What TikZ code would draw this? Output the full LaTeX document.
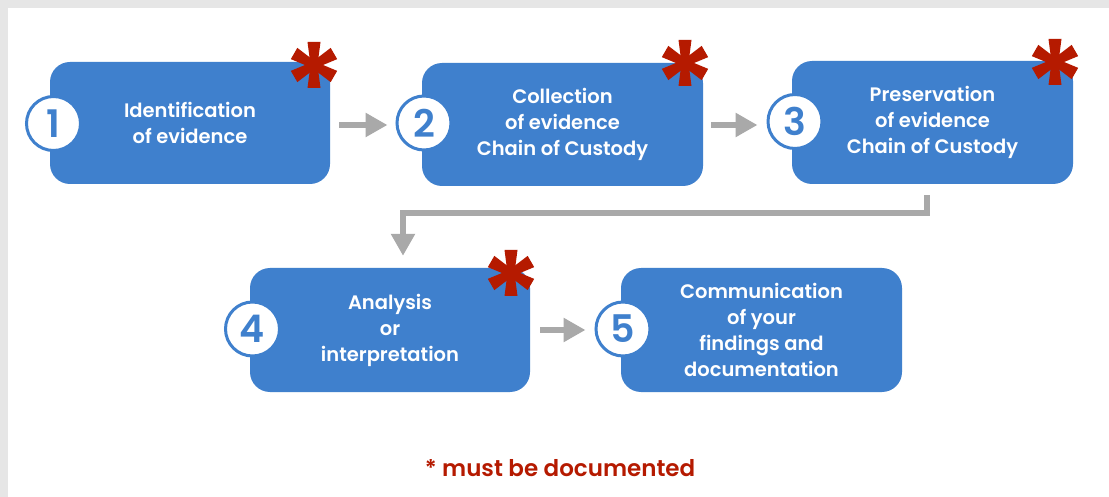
\documentclass[tikz,border=0pt]{standalone}
\usepackage{fontspec}
\setmainfont{Poppins}[BoldFont={Poppins SemiBold}]
\usetikzlibrary{arrows.meta}
\definecolor{boxblue}{HTML}{3F80CD}
\definecolor{arrowgray}{HTML}{A9A9A9}
\definecolor{starred}{HTML}{B51A00}
\definecolor{framegray}{HTML}{E6E6E6}
\tikzset{
  stepbox/.style={fill=boxblue, rounded corners=20pt, draw=none, text=white,
    align=center, font=\bfseries\fontsize{19.5}{26}\selectfont, inner sep=0pt},
  numcircle/.style={circle, fill=white, draw=boxblue, line width=3pt,
    minimum size=54pt, inner sep=0pt, text=boxblue,
    font=\bfseries\fontsize{38}{38}\selectfont},
  flow/.style={draw=arrowgray, line width=6pt, line join=miter,
    -{Triangle[width=23pt,length=22pt]}},
  pics/asterisk/.style={code={
    \foreach \a in {30,90,150,210,270,330}{
      \fill[starred, rotate=\a] (0,-3.5) -- (23,-6.5) -- (23,6.5) -- (0,3.5) -- cycle;}
    \fill[starred] (0,0) circle (5);
  }}
}
\begin{document}
\begin{tikzpicture}[x=1pt,y=-1pt]
\fill[framegray] (0,0) rectangle (1109,497);
\fill[white] (8,8) rectangle (1109,497);
\useasboundingbox (0,0) rectangle (1109,497);

\node[stepbox, minimum width=280pt, minimum height=122pt] (b1) at (190,123) {Identification\\of evidence};
\node[stepbox, minimum width=281pt, minimum height=123pt] (b2) at (562.5,124.5) {Collection\\of evidence\\Chain of Custody};
\node[stepbox, minimum width=281pt, minimum height=123pt] (b3) at (932.5,122.5) {Preservation\\of evidence\\Chain of Custody};
\node[stepbox, minimum width=280pt, minimum height=124pt] (b4) at (390,330) {Analysis\\or\\interpretation};
\node[stepbox, minimum width=281pt, minimum height=124pt] (b5) at (761.5,330) {Communication\\of your\\findings and\\documentation};

\node[numcircle] (c1) at (53.5,123.5) {1};
\node[numcircle] (c2) at (424,123) {2};
\node[numcircle] (c3) at (795,121.5) {3};
\node[numcircle] (c4) at (252.5,329) {4};
\node[numcircle] (c5) at (623,329) {5};

\pic at (314,65) {asterisk};
\pic at (685,63) {asterisk};
\pic at (1055,62) {asterisk};
\pic at (511,273) {asterisk};

\draw[flow] ([shift={(9,2)}]b1.east) -- ([shift={(-8,2)}]c2.west);
\draw[flow] ([shift={(8,0.5)}]b2.east) -- ([shift={(-9,3.5)}]c3.west);
\draw[flow] ([shift={(10,0)}]b4.east) -- ([shift={(-9,1)}]c5.west);
\draw[flow] ([shift={(-5.5,11)}]b3.south) |- ([shift={(13,-55)}]b4.north) -- ([shift={(13,-12)}]b4.north);

\node[text=starred, font=\bfseries\fontsize{23}{23}\selectfont] (note) at (560,468) {* must be documented};
\end{tikzpicture}
\end{document}
